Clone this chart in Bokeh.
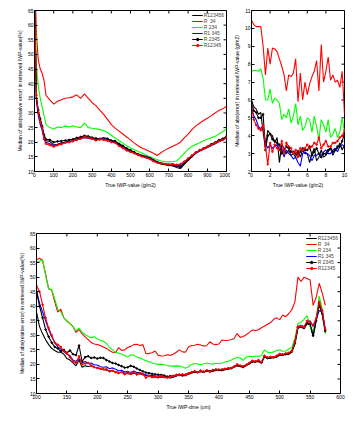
import math
from bokeh.plotting import figure
from bokeh.layouts import column, row
from bokeh.models import Legend, LegendItem, FixedTicker, Range1d
from bokeh.embed import file_html
from bokeh.resources import INLINE

# ---------------- data ----------------
series_names = ["R123456", "R  34", "R 234", "R1 345", "R 2345", "R12345"]
series_colors = ["#000000", "#ff0000", "#00ff00", "#0000ff", "#000000", "#ff0000"]
series_markers = [False, False, False, False, True, True]

# top-left: true IWP value (g/m2) vs median abs relative error (%)
tl_x = [0, 10, 20, 30, 40, 50, 60, 80, 100, 120, 140, 160, 180, 200, 220, 240, 260, 280,
        300, 320, 340, 360, 380, 400, 420, 440, 460, 480, 500, 520, 540, 560, 580, 600,
        620, 640, 660, 680, 700, 720, 740, 760, 780, 800, 820, 840, 860, 880, 900, 920,
        940, 960, 980, 1000]
tl_r123456 = [70, 35, 30, 27, 25, 21.5, 20.5, 20.3, 19, 19.3, 19.8, 20, 20.3, 20.5, 21, 21.5, 21.8, 21.7,
              21.3, 21, 20.8, 21.2, 21, 20.5, 20.2, 19.2, 18.3, 17.6, 17, 16.3, 15.6, 15.2, 14.8, 14.3,
              13.6, 13, 12.6, 12.3, 12.1, 12, 11.4, 11, 12.4, 13.8, 15, 16.3, 17, 17.6, 18.2, 18.9,
              19.5, 20.3, 20.8, 21.7]
tl_r34 = [80, 57, 48, 45, 43.5, 41, 36, 34.5, 33, 34, 34.5, 35, 35.2, 35.5, 36.2, 35, 36.5, 35,
          33.5, 32.5, 31, 29.5, 27.8, 26, 24.8, 23.8, 22.8, 21.8, 20.8, 19.7, 18.8, 18, 17.4, 16.8,
          16.2, 15.5, 16.5, 17.3, 18, 18.6, 19.2, 20, 21.5, 22.8, 24.3, 25.6, 26.5, 27.4, 28.2, 29,
          30, 30.8, 31.4, 32.3]
tl_r234 = [80, 46, 39, 35, 32, 29, 26, 25, 24.5, 25.2, 25, 25.5, 25.2, 25.6, 25.2, 25, 26.5, 25,
           24.8, 24.6, 24.3, 24, 23.3, 22.4, 21.5, 20.6, 19.7, 18.8, 18, 17.4, 16.8, 16.3, 15.7, 15,
           14.5, 14, 13.6, 13.4, 13.3, 13.4, 13.6, 14.8, 16.2, 17.6, 18.6, 19.2, 19.8, 20.5, 21, 21.5,
           22, 22.8, 23.6, 24.5]
tl_r1345 = [70, 34, 29, 26, 24, 21, 20, 19.5, 18.8, 19.2, 19.5, 20, 20.2, 20.4, 20.8, 21.2, 21.5, 21.4,
            21, 20.8, 21.2, 21.6, 21.3, 20.3, 20, 19, 18.2, 17.5, 17, 16.5, 15.8, 15.5, 15.2, 14.8,
            14, 13.3, 12.9, 12.7, 12.5, 12.6, 12.2, 12, 13, 14.2, 15.2, 16.2, 17, 17.6, 18.3, 18.9,
            19.5, 20.2, 20.7, 21.5]
tl_r2345 = [70, 35, 31, 28, 25.5, 22.5, 21, 20.8, 20, 20.3, 20.4, 20.6, 20.8, 21, 21.5, 21.8, 22.2, 22,
            21.6, 21.3, 21.2, 21, 21.2, 20.6, 20.4, 19.5, 18.8, 17.9, 17.3, 16.6, 15.9, 15.4, 15, 14.6,
            13.8, 13.2, 12.8, 12.5, 12.2, 12.1, 11.8, 11.5, 12.8, 14, 15.2, 16.5, 17.3, 17.9, 18.5, 19.3,
            19.9, 20.7, 21.2, 22]
tl_r12345 = [70, 36, 30, 27, 25, 21, 19.5, 19, 18.5, 19, 19.3, 19.8, 20, 20.3, 20.8, 21.2, 21.8, 21.6,
             21.2, 20.6, 21, 20.8, 20.5, 20, 19.8, 18.7, 18, 17.2, 16.7, 16.2, 15.6, 15.1, 14.8, 14.3,
             13.5, 13, 12.8, 12.6, 12.4, 12.5, 12.3, 12.5, 13.4, 14.5, 15.5, 16.5, 17.2, 17.8, 18.4, 19,
             19.7, 20.3, 20.8, 21.6]

# top-right: true IWP value (g/m2) vs median abs error (g/m2)
tr_x = [0, 0.25, 0.5, 0.75, 1, 1.25, 1.5, 1.75, 2, 2.25, 2.5, 2.75, 3, 3.25, 3.5, 3.75, 4, 4.25,
        4.5, 4.75, 5, 5.25, 5.5, 5.75, 6, 6.25, 6.5, 6.75, 7, 7.25, 7.5, 7.75, 8, 8.25, 8.5, 8.75,
        9, 9.25, 9.5, 9.75, 10]
tr_r123456 = [6.0, 5.6, 5.5, 5.2, 5.3, 4.2, 3.3, 4.3, 4.1, 4.0, 3.6, 3.9, 2.5, 3.5, 3.3, 3.0, 3.2, 2.9,
              3.0, 2.8, 3.2, 2.8, 3.2, 3.0, 3.0, 2.5, 3.0, 3.3, 2.6, 2.8, 3.2, 2.8, 2.9, 3.1, 3.3, 2.9,
              3.2, 3.3, 3.6, 3.2, 3.5]
tr_r34 = [10.45, 10.2, 10.1, 10.1, 10.1, 9.0, 7.4, 8.9, 8.0, 8.9, 8.85, 8.7, 8.3, 7.9, 7.4, 6.5, 7.4, 7.3,
          7.5, 8.3, 5.9, 7.5, 6.0, 7.0, 6.3, 6.9, 7.3, 7.6, 8.2, 6.5, 9.1, 7.0, 7.6, 8.4, 7.1, 7.4,
          7.0, 7.1, 6.7, 7.6, 5.2]
tr_r234 = [7.6, 7.65, 7.65, 7.6, 7.75, 7.2, 6.0, 6.0, 6.6, 5.8, 6.1, 6.0, 5.8, 4.9, 5.2, 5.0, 5.5, 4.7,
           5.1, 5.8, 4.6, 5.1, 4.3, 4.5, 5.0, 4.9, 4.2, 5.1, 4.5, 3.8, 4.9, 4.6, 4.2, 4.9, 3.9, 4.1,
           4.4, 3.9, 4.2, 5.0, 4.2]
tr_r1345 = [5.6, 5.1, 4.9, 4.5, 4.4, 4.6, 3.6, 3.3, 3.5, 3.3, 3.4, 3.5, 3.2, 3.3, 2.8, 3.2, 3.0, 2.9,
            2.7, 2.8, 2.5, 2.3, 3.0, 3.1, 3.0, 2.9, 2.6, 2.9, 2.9, 3.0, 2.9, 3.1, 3.2, 3.0, 3.0, 3.2,
            3.3, 3.1, 3.4, 3.5, 3.4]
tr_r2345 = [5.8, 5.4, 5.3, 5.0, 5.0, 5.2, 3.2, 4.0, 4.1, 3.8, 3.7, 3.6, 3.5, 3.0, 3.2, 3.4, 3.3, 3.1,
            3.1, 3.0, 3.0, 3.1, 3.3, 3.2, 3.2, 3.4, 2.9, 3.1, 3.3, 3.0, 2.8, 3.0, 3.0, 3.2, 3.3, 3.1,
            3.2, 3.4, 3.4, 3.7, 4.1]
tr_r12345 = [5.6, 4.9, 4.6, 4.4, 4.3, 4.6, 3.4, 2.4, 3.6, 3.1, 3.5, 3.3, 3.2, 3.7, 3.0, 3.6, 3.4, 3.3,
             3.0, 3.2, 2.8, 3.3, 3.2, 3.3, 3.5, 3.3, 3.4, 3.6, 3.5, 3.9, 3.3, 3.5, 3.7, 3.4, 3.4, 3.6,
             3.6, 3.7, 3.9, 4.0, 4.3]

# bottom: true IWP dme (um) vs median abs relative error (%)
bt_x = [100, 105, 110, 115, 120, 125, 130, 135, 140, 145, 150, 155, 160, 165, 170, 175, 180, 185,
        190, 195, 200, 205, 210, 215, 220, 225, 230, 235, 240, 245, 250, 255, 260, 265, 270, 275,
        280, 285, 290, 295, 300, 305, 310, 315, 320, 325, 330, 335, 340, 345, 350, 355, 360, 365,
        370, 375, 380, 385, 390, 395, 400, 405, 410, 415, 420, 425, 430, 435, 440, 445, 450, 455,
        460, 465, 470, 475, 480, 485, 490, 495, 500, 505, 510, 515, 520, 525, 530, 535, 540, 545,
        550, 555, 560, 565, 570, 575]
bt_r123456 = [38, 33, 30.5, 28.5, 26.8, 25.5, 24.8, 24.2, 24.2, 23.5, 22, 21.5, 20.5, 19.5, 21.5, 19, 19.5, 19.3,
              19.5, 19, 18.8, 18.5, 18.3, 18, 17.8, 17.8, 17.5, 17.3, 17.2, 17, 16.8, 16.6, 17, 16.8, 16.7, 16.5,
              16.2, 16, 15.8, 15.6, 15.6, 15.7, 15.5, 15.5, 15.3, 15.6, 16, 16.3, 16, 16.2, 16.6, 17, 17.4, 17.3,
              17.5, 17.2, 17.7, 17.5, 17.6, 18, 18, 17.9, 18.2, 18.4, 18.5, 19, 19.5, 19.3, 19, 19.6, 20.2, 20.9,
              20.8, 21, 20.5, 22.6, 22, 22.2, 22.3, 22.5, 23.1, 23.2, 23.4, 23.6, 24.2, 27, 32.5, 32.8, 32.3, 34,
              33.5, 29.5, 35, 40.5, 37, 31]
bt_r34 = [56, 56.5, 55.8, 51, 46, 45.5, 41.5, 38, 39, 36, 35, 34, 33, 31, 32, 30.5, 29.5, 28.5,
          27.5, 27, 26.8, 26.5, 26, 25.5, 24.8, 24.2, 24, 25.8, 24.8, 25, 25.8, 26.2, 26.8, 26.9, 26.5, 26.8,
          23.7, 23.8, 24, 24.6, 23.2, 22.9, 23, 23.3, 23.1, 23.5, 24.2, 25, 24.3, 24.2, 26, 26.5, 26.6, 26.9,
          26.7, 26.3, 26.4, 27.8, 27, 26.8, 27, 28.4, 28.2, 28.3, 28.5, 28.9, 30.6, 29.3, 29.6, 30.2, 31, 31.8,
          31.6, 31.9, 32.6, 33.2, 33.8, 34.4, 35.5, 36, 35.4, 37, 36.4, 37.5, 38.8, 41.5, 50, 48.5, 50, 49.5,
          49, 40.3, 43, 47.9, 44.5, 40.3]
bt_r234 = [55, 55.5, 56, 50.5, 46, 45.8, 42.5, 39, 38, 36, 34.8, 34, 33, 31.5, 32.5, 31, 30.3, 29.6,
           29.2, 29.5, 28.7, 28.2, 28, 27.2, 25.8, 25, 24.2, 23.8, 23.6, 23, 22.6, 23.2, 23.2, 22.5, 22.2, 21.7,
           21.3, 20.9, 20.5, 20.2, 20, 20.1, 19.9, 19.6, 19.4, 19.4, 19.5, 19.4, 19.2, 18.7, 19.2, 20, 20.3, 20.2,
           19.9, 20.2, 20.5, 20.2, 20.1, 20.4, 20.3, 20.5, 20.8, 21.1, 21.4, 22, 22.4, 22.2, 21.4, 22.5, 22.8, 22.6,
           22.9, 22.7, 23.1, 25, 24.2, 24, 24.3, 24.8, 25, 24.5, 24.6, 25.3, 25.8, 29, 34, 34.5, 35.5, 36.8,
           33, 31.5, 36, 43.5, 39, 30.5]
bt_r1345 = [45.5, 41, 38, 35, 32, 29.5, 27.5, 26, 25.2, 24.5, 23.5, 23, 21.5, 21, 22, 20.5, 21, 20.3,
            20.5, 19.8, 19.8, 19.2, 19, 19.2, 18.5, 18.8, 18.3, 17.8, 18, 17.4, 17.6, 17.2, 17.7, 17.2, 17.2, 16.8,
            16.4, 16.2, 16.3, 16, 16, 15.9, 15.8, 15.6, 15.7, 15.8, 16.2, 16.4, 16.2, 16.4, 16.8, 17.3, 17.6, 17.4,
            17.7, 17.5, 17.9, 17.6, 18, 18.2, 18.3, 18.1, 18.5, 18.6, 18.8, 19.3, 19.8, 19.5, 19.2, 20, 20.4, 21.2,
            21, 21.3, 20.8, 22.8, 22.4, 22.5, 22.6, 22.9, 23.7, 23.4, 23.6, 23.8, 24.8, 27.5, 33, 33.5, 33, 34.5,
            35, 33, 35.5, 38.5, 38, 32]
bt_r2345 = [45, 40, 36, 32, 29.5, 27.5, 26, 25.5, 24.5, 25, 24, 24.8, 23.5, 23.2, 26.5, 21, 22.5, 22.8,
            22.2, 22.4, 22, 22.3, 22.2, 21.5, 21, 20.5, 20.3, 19.8, 19.4, 18.9, 19, 19.5, 19.2, 18.6, 18.1, 17.6,
            17.2, 17, 16.8, 16.6, 16.5, 16.4, 16.2, 15.8, 16, 16, 16.3, 16.5, 16.3, 16.5, 16.9, 17.3, 17.5, 17.3,
            17.8, 17.5, 17.9, 17.6, 18, 18.1, 18.1, 18, 18.4, 18.5, 18.7, 19.2, 19.8, 19.4, 19.1, 19.8, 20.3, 21,
            20.9, 21.2, 20.6, 22.7, 22.2, 22.3, 22.4, 22.7, 23.3, 23.3, 23.5, 23.7, 24.5, 27.3, 32.7, 33, 32.5, 34.2,
            34, 30, 35.2, 41, 37.5, 31.5]
bt_r12345 = [47, 45, 40.5, 36, 32.5, 30, 27.5, 26.8, 26, 24.5, 23.8, 22.5, 21, 20.5, 22.8, 20, 20.3, 20.5,
             19.6, 19, 18.8, 18.5, 18.3, 18.4, 17.6, 17.8, 17.3, 17, 17.4, 16.6, 17.2, 16.8, 17.4, 16.5, 17, 16.6,
             15.4, 16.1, 15.6, 15.8, 15.5, 16, 15.6, 15.4, 15.8, 15.9, 16.4, 16.3, 16.6, 16.3, 16.9, 17.2, 17.7, 17.3,
             17.8, 17.4, 18, 17.5, 18.1, 18.3, 18.2, 18.3, 18.5, 18.7, 18.8, 19.2, 20, 19.6, 19.4, 19.8, 20.5, 21.3,
             21, 21.5, 20.7, 23, 22.4, 22.6, 22.5, 23, 23.6, 23.4, 23.8, 24, 24.6, 27.8, 33, 33.2, 32.8, 35,
             34.5, 33.5, 35.8, 41.5, 38.5, 32]

tl_ticks_x = [0, 100, 200, 300, 400, 500, 600, 700, 800, 900, 1000]
tl_ticks_y = [10, 15, 20, 25, 30, 35, 40, 45, 50, 55, 60, 65]
tr_ticks_x = [0, 2, 4, 6, 8, 10]
tr_ticks_y = [2, 3, 4, 5, 6, 7, 8, 9, 10, 11]
bt_ticks_x = [100, 150, 200, 250, 300, 350, 400, 450, 500, 550, 600]
bt_ticks_y = [10, 15, 20, 25, 30, 35, 40, 45, 50, 55, 60, 65]

FONT = "Liberation Sans"
FS = "5px"


def style_axis(ax, ticks):
    ax.ticker = FixedTicker(ticks=ticks)
    ax.major_tick_in = 3
    ax.major_tick_out = 0
    ax.minor_tick_in = 0
    ax.minor_tick_out = 0
    ax.axis_line_color = "black"
    ax.major_tick_line_color = "black"
    ax.major_label_text_font = FONT
    ax.axis_label_text_font = FONT
    ax.axis_label_text_font_style = "normal"
    ax.axis_label_text_font_size = FS
    ax.axis_label_text_color = "black"
    ax.major_label_text_color = "black"
    ax.major_label_text_font_size = FS
    ax.major_label_standoff = 1
    ax.axis_label_standoff = 2


def make_fig(fw, fh, mbl, mbr, mbt, mbb, xr, yr, xt, yt, xlabel, ylabel):
    p = figure(frame_width=fw, frame_height=fh, min_border_left=mbl, min_border_right=mbr,
               min_border_top=mbt, min_border_bottom=mbb,
               x_range=Range1d(*xr), y_range=Range1d(*yr),
               output_backend="svg", toolbar_location=None)
    p.xgrid.visible = False
    p.ygrid.visible = False
    p.outline_line_color = "black"
    p.outline_line_width = 1
    p.background_fill_color = "white"
    p.border_fill_color = "white"
    style_axis(p.xaxis[0], xt)
    style_axis(p.yaxis[0], yt)
    p.xaxis[0].axis_label = xlabel
    p.yaxis[0].axis_label = ylabel
    # box ticks on the top and right edges (half of each dash is clipped by the frame)
    p.scatter(xt, [yr[1]] * len(xt), marker="dash", angle=math.pi / 2, size=6,
              line_color="black", line_width=1)
    p.scatter([xr[1]] * len(yt), yt, marker="dash", size=6,
              line_color="black", line_width=1)
    return p


def draw(p, x, ys):
    items = []
    for name, y, c, m in zip(series_names, ys, series_colors, series_markers):
        rs = [p.line(x, y, line_color=c, line_width=1.1)]
        if m:
            rs.append(p.scatter(x, y, size=1.6, marker="circle", color=c))
        items.append(LegendItem(label=name, renderers=rs))
    return items


def add_legend(p, items):
    lg = Legend(items=items, location="top_right", margin=1, padding=1, spacing=0,
                label_height=6, glyph_height=6, glyph_width=11, label_standoff=1,
                label_text_font=FONT, label_text_font_size=FS,
                border_line_alpha=0, background_fill_alpha=0)
    p.add_layout(lg, "center")


ylab_rel = "Median of abs(relative error) in retrieved IWP-value(%)"

tl = make_fig(192, 161, 34, 4, 10, 49, (0, 1000), (10, 65), tl_ticks_x, tl_ticks_y,
              "True IWP-value (g/m2)", ylab_rel)
items = draw(tl, tl_x, [tl_r123456, tl_r34, tl_r234, tl_r1345, tl_r2345, tl_r12345])
add_legend(tl, items)

tr = make_fig(93, 161, 18, 5, 10, 49, (0, 10), (2, 11), tr_ticks_x, tr_ticks_y,
              "True IWP-value (g/m2)", "Median of abs(error) in retrieved IWP-value (g/m2)")
draw(tr, tr_x, [tr_r123456, tr_r34, tr_r234, tr_r1345, tr_r2345, tr_r12345])

bt = make_fig(304, 160, 36, 6, 13, 20, (100, 600), (10, 65), bt_ticks_x, bt_ticks_y,
              "True IWP-dme (um)", ylab_rel)
items = draw(bt, bt_x, [bt_r123456, bt_r34, bt_r234, bt_r1345, bt_r2345, bt_r12345])
add_legend(bt, items)

layout = column(row(tl, tr), bt)
open("out.html", "w").write(file_html(layout, INLINE))
